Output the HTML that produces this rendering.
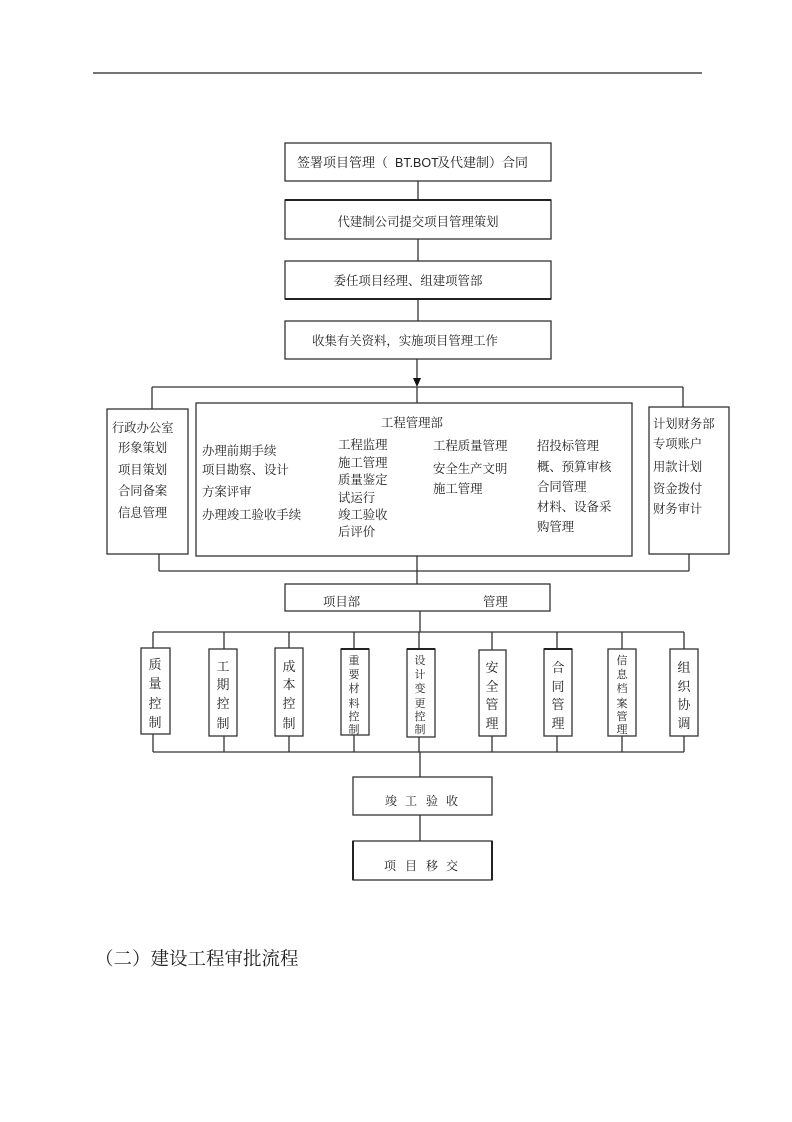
<!DOCTYPE html>
<html>
<head>
<meta charset="utf-8">
<style>
html,body{margin:0;padding:0;background:#fff;}
svg{display:block;}
text{fill:#222;font-family:"Liberation Serif","Noto Serif CJK SC",serif;}
.s{font-family:"Liberation Sans","Noto Sans CJK SC",sans-serif;}
</style>
</head>
<body>
<svg width="792" height="1122" viewBox="0 0 792 1122" xmlns="http://www.w3.org/2000/svg">
<rect width="792" height="1122" fill="#fff"/>
<!-- header rule -->
<line x1="93" y1="73" x2="702" y2="73" stroke="#222" stroke-width="1.2"/>

<g stroke="#333" stroke-width="1.3" fill="none">
  <!-- top chain boxes -->
  <rect x="285" y="143" width="266" height="38"/>
  <rect x="285" y="200" width="266" height="39"/>
  <rect x="285" y="261" width="266" height="38"/>
  <rect x="285" y="321" width="266" height="38"/>
  <line x1="418" y1="181" x2="418" y2="200"/>
  <line x1="418" y1="239" x2="418" y2="261"/>
  <line x1="418" y1="299" x2="418" y2="321"/>
  <line x1="417" y1="359" x2="417" y2="380"/>

  <!-- distribution line -->
  <line x1="152" y1="387" x2="683" y2="387"/>
  <line x1="152" y1="387" x2="152" y2="409"/>
  <line x1="683" y1="387" x2="683" y2="407"/>
  <line x1="417" y1="387" x2="417" y2="403"/>

  <!-- three department boxes -->
  <rect x="107" y="409" width="81" height="145"/>
  <rect x="196" y="403" width="436" height="153"/>
  <rect x="649" y="407" width="80" height="147"/>

  <!-- collection line -->
  <line x1="159" y1="554" x2="159" y2="571"/>
  <line x1="689" y1="554" x2="689" y2="571"/>
  <line x1="159" y1="571" x2="689" y2="571"/>
  <line x1="417" y1="556" x2="417" y2="584"/>

  <!-- 项目部 管理 -->
  <rect x="285" y="584" width="265" height="27"/>
  <line x1="420" y1="611" x2="420" y2="632"/>

  <!-- branch lines -->
  <line x1="153" y1="632" x2="684" y2="632"/>
  <line x1="153" y1="752" x2="684" y2="752"/>
  <line x1="153" y1="632" x2="153" y2="648"/><line x1="153" y1="734" x2="153" y2="752"/>
  <line x1="224" y1="632" x2="224" y2="649"/><line x1="224" y1="736" x2="224" y2="752"/>
  <line x1="289" y1="632" x2="289" y2="648"/><line x1="289" y1="736" x2="289" y2="752"/>
  <line x1="354" y1="632" x2="354" y2="649"/><line x1="354" y1="735" x2="354" y2="752"/>
  <line x1="419" y1="632" x2="419" y2="649"/><line x1="419" y1="737" x2="419" y2="752"/>
  <line x1="492" y1="632" x2="492" y2="650"/><line x1="492" y1="736" x2="492" y2="752"/>
  <line x1="557" y1="632" x2="557" y2="649"/><line x1="557" y1="736" x2="557" y2="752"/>
  <line x1="622" y1="632" x2="622" y2="649"/><line x1="622" y1="736" x2="622" y2="752"/>
  <line x1="684" y1="632" x2="684" y2="649"/><line x1="684" y1="736" x2="684" y2="752"/>

  <!-- small boxes -->
  <rect x="141" y="648" width="29" height="86"/>
  <rect x="209" y="649" width="28" height="87"/>
  <rect x="275" y="648" width="28" height="88"/>
  <rect x="341" y="649" width="28" height="86"/>
  <rect x="407" y="649" width="28" height="88"/>
  <rect x="479" y="650" width="27" height="86"/>
  <rect x="544" y="649" width="28" height="87"/>
  <rect x="608" y="649" width="28" height="87"/>
  <rect x="670" y="649" width="28" height="87"/>

  <!-- final chain -->
  <line x1="420" y1="752" x2="420" y2="777"/>
  <rect x="353" y="777" width="139" height="38"/>
  <line x1="420" y1="815" x2="420" y2="841"/>
  <rect x="353" y="841" width="139" height="39"/>
</g>
<!-- thicker accents -->
<g stroke="#222" stroke-width="2" fill="none">
  <line x1="285" y1="200" x2="551" y2="200"/>
  <line x1="285" y1="299" x2="551" y2="299"/>
  <line x1="341" y1="649" x2="369" y2="649"/>
  <line x1="407" y1="649" x2="435" y2="649"/>
  <line x1="544" y1="649" x2="572" y2="649"/>
  <line x1="353" y1="841" x2="353" y2="880"/>
  <line x1="492" y1="841" x2="492" y2="880"/>
</g>
<!-- arrowhead -->
<polygon points="413,378 421,378 417,387" fill="#111"/>

<!-- top chain text -->
<text x="297" y="167" font-size="13">签署项目管理（</text>
<text x="395" y="167" font-size="12.5" class="s">BT.BOT</text>
<text x="437" y="167" font-size="13">及代建制）合同</text>
<text x="418" y="226" font-size="12.4" text-anchor="middle">代建制公司提交项目管理策划</text>
<text x="408" y="285" font-size="12.4" text-anchor="middle">委任项目经理、组建项管部</text>
<text x="405" y="345" font-size="12.4" text-anchor="middle">收集有关资料，实施项目管理工作</text>

<!-- left dept -->
<g font-size="12.3">
<text x="112" y="432">行政办公室</text>
<text x="118" y="452">形象策划</text>
<text x="118" y="474">项目策划</text>
<text x="118" y="495">合同备案</text>
<text x="118" y="517">信息管理</text>
</g>

<!-- engineering dept -->
<g font-size="12.4">
<text x="381" y="427">工程管理部</text>
<text x="202" y="455">办理前期手续</text>
<text x="202" y="474">项目勘察、设计</text>
<text x="202" y="496">方案评审</text>
<text x="202" y="519">办理竣工验收手续</text>
<text x="338" y="449">工程监理</text>
<text x="338" y="467">施工管理</text>
<text x="338" y="484">质量鉴定</text>
<text x="338" y="502">试运行</text>
<text x="338" y="519">竣工验收</text>
<text x="338" y="536">后评价</text>
<text x="433" y="450">工程质量管理</text>
<text x="433" y="473">安全生产文明</text>
<text x="433" y="493">施工管理</text>
<text x="537" y="450">招投标管理</text>
<text x="537" y="471">概、预算审核</text>
<text x="537" y="491">合同管理</text>
<text x="537" y="511">材料、设备采</text>
<text x="537" y="531">购管理</text>
</g>

<!-- right dept -->
<g font-size="12.3">
<text x="653" y="428">计划财务部</text>
<text x="653" y="448">专项账户</text>
<text x="653" y="471">用款计划</text>
<text x="653" y="493">资金拨付</text>
<text x="653" y="513">财务审计</text>
</g>

<!-- 项目部 管理 -->
<text x="323" y="606" font-size="12.4">项目部</text>
<text x="483" y="606" font-size="12.4">管理</text>

<!-- vertical small box texts -->
<g font-size="13" text-anchor="middle">
<text x="155" y="669">质</text><text x="155" y="688">量</text><text x="155" y="708">控</text><text x="155" y="727">制</text>
<text x="223" y="671">工</text><text x="223" y="689">期</text><text x="223" y="708">控</text><text x="223" y="728">制</text>
<text x="289" y="671">成</text><text x="289" y="689">本</text><text x="289" y="708">控</text><text x="289" y="728">制</text>
<text x="492" y="672">安</text><text x="492" y="691">全</text><text x="492" y="709">管</text><text x="492" y="728">理</text>
<text x="558" y="672">合</text><text x="558" y="691">同</text><text x="558" y="709">管</text><text x="558" y="728">理</text>
<text x="684" y="672">组</text><text x="684" y="691">织</text><text x="684" y="709">协</text><text x="684" y="728">调</text>
</g>
<g font-size="11" text-anchor="middle">
<text x="354" y="664">重</text><text x="354" y="678">要</text><text x="354" y="692">材</text><text x="354" y="707">料</text><text x="354" y="720">控</text><text x="354" y="733">制</text>
<text x="420" y="664">设</text><text x="420" y="678">计</text><text x="420" y="692">变</text><text x="420" y="707">更</text><text x="420" y="720">控</text><text x="420" y="733">制</text>
<text x="622" y="664">信</text><text x="622" y="678">息</text><text x="622" y="692">档</text><text x="622" y="707">案</text><text x="622" y="720">管</text><text x="622" y="733">理</text>
</g>

<!-- final chain text -->
<g font-size="12" text-anchor="middle">
<text x="391" y="805">竣</text><text x="411" y="805">工</text><text x="432" y="805">验</text><text x="452" y="805">收</text>
<text x="390" y="870">项</text><text x="411" y="870">目</text><text x="432" y="870">移</text><text x="452" y="870">交</text>
</g>

<!-- heading -->
<text x="95" y="965" font-size="18.5">（二）建设工程审批流程</text>
</svg>
</body>
</html>
